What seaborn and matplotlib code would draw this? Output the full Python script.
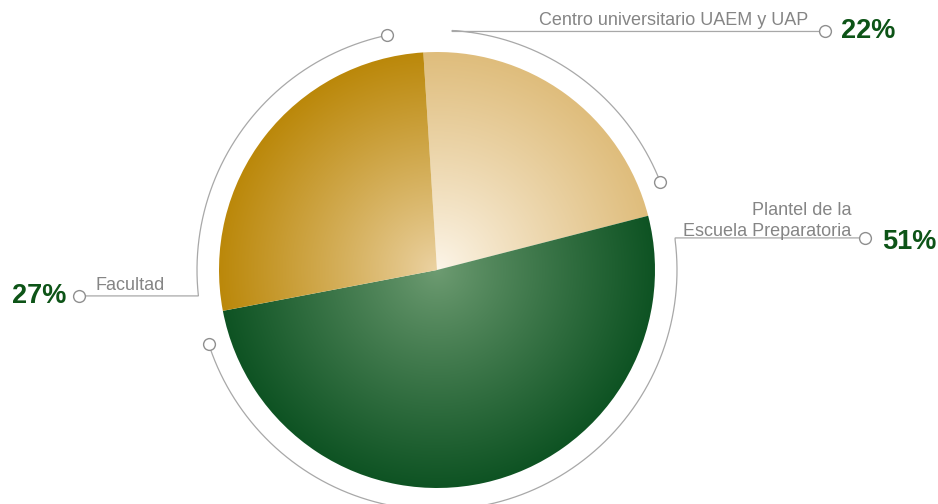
import numpy as np
import matplotlib
matplotlib.use("Agg")
import matplotlib.pyplot as plt
import seaborn as sns

# Distribution by type of institution
labels = ["Centro universitario UAEM y UAP", "Plantel de la\nEscuela Preparatoria", "Facultad"]
values = [22, 51, 27]
pct_labels = ["22%", "51%", "27%"]

# radial gradient colours (centre, edge) per slice
grad_center = ["#fdf6ea", "#6e9c72", "#ecd3a4"]
grad_edge = ["#dfbd7c", "#0e5323", "#bb880a"]

sns.set_theme(style="white")
plt.rcParams["font.family"] = ["Liberation Sans", "DejaVu Sans"]

W, H = 938, 504
fig = plt.figure(figsize=(W / 100, H / 100), dpi=100)
ax = fig.add_axes([0, 0, 1, 1])

cx, cy = 437, H - 270
R = 218
start = 93.6  # degrees, counter-clockwise from +x; slices run clockwise

wedges, _ = ax.pie(values, startangle=start, counterclock=False,
                   center=(cx, cy), radius=R, frame=True,
                   wedgeprops=dict(facecolor="none", linewidth=0))
ax.set_xlim(0, W)
ax.set_ylim(0, H)
ax.set_aspect("equal")
ax.axis("off")


def hex_rgb(h):
    return np.array(matplotlib.colors.to_rgb(h))


n = 600
gx, gy = np.meshgrid(np.linspace(-1, 1, n), np.linspace(-1, 1, n))
rr = np.clip(np.hypot(gx, gy), 0, 1)
for w, c0, c1 in zip(wedges, grad_center, grad_edge):
    a, b = hex_rgb(c0), hex_rgb(c1)
    t = rr[..., None] ** 0.9
    img = a * (1 - t) + b * t
    im = ax.imshow(img, extent=(cx - R, cx + R, cy - R, cy + R),
                   origin="lower", interpolation="bilinear", zorder=1)
    im.set_clip_path(w)

# leader arcs around the pie
Ra = 240
line_col = "#a8a8a8"
circ_col = "#8f8f8f"
bounds = np.concatenate([[0], np.cumsum(values)]) / 100 * 360 - (start - 90)
inset_a = [7.2, 7.2, 4.6]
inset_b = [7.2, 7.2, 8.4]
label_circle_x = [825, 865, 79]
label_y_off = [-1, 2, 0]


def pt(theta_cw):
    th = np.deg2rad(theta_cw)
    return cx + Ra * np.sin(th), cy + Ra * np.cos(th)


for i in range(3):
    t0 = bounds[i] + inset_a[i]
    t1 = bounds[i + 1] - inset_b[i]
    th = np.linspace(t0, t1, 200)
    xs, ys = pt(th)
    x0, y0 = pt(t0)
    lx = label_circle_x[i]
    ly = y0 + label_y_off[i]
    px = np.concatenate([[lx, x0], xs])
    py = np.concatenate([[ly, ly], ys])
    ax.plot(px, py, color=line_col, lw=0.9, zorder=3, solid_joinstyle="miter")
    xe, ye = pt(t1)
    ax.plot([xe], [ye], marker="o", ms=8.5, mfc="white", mec=circ_col, mew=1.0, zorder=4)
    ax.plot([lx], [ly], marker="o", ms=8.5, mfc="white", mec=circ_col, mew=1.0, zorder=4)

txt_col = "#858585"
pct_col = "#0d5417"
lab_fs = 13
pct_fs = 19.5

# Centro universitario
ax.text(808, H - 25, labels[0], ha="right", va="baseline", fontsize=lab_fs, color=txt_col)
ax.text(841, H - 38, pct_labels[0], ha="left", va="baseline", fontsize=pct_fs,
        fontweight="bold", color=pct_col)
# Plantel (two right-aligned lines)
for k, line in enumerate(labels[1].split("\n")):
    ax.text(851, H - (215 + 21 * k), line, ha="right", va="baseline",
            fontsize=lab_fs, color=txt_col)
ax.text(882, H - 249, pct_labels[1], ha="left", va="baseline", fontsize=pct_fs,
        fontweight="bold", color=pct_col)
# Facultad
ax.text(95, H - 290, labels[2], ha="left", va="baseline", fontsize=lab_fs, color=txt_col)
ax.text(66, H - 303, pct_labels[2], ha="right", va="baseline", fontsize=pct_fs,
        fontweight="bold", color=pct_col)

fig.savefig("out.png", dpi=100)
